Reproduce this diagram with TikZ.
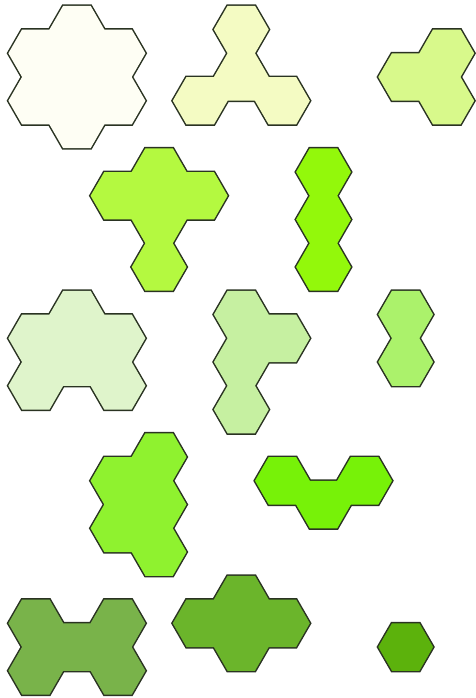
\documentclass[tikz,border=0pt]{standalone}
\usepackage{tikz}
\definecolor{outl}{HTML}{2A3322}
\definecolor{ca}{HTML}{FEFEF4}
\definecolor{cb}{HTML}{F4FBC3}
\definecolor{cc}{HTML}{D8F98B}
\definecolor{cd}{HTML}{B4F940}
\definecolor{ce}{HTML}{93F80B}
\definecolor{cf}{HTML}{DFF4CB}
\definecolor{cg}{HTML}{C6F0A1}
\definecolor{ch}{HTML}{ABF26B}
\definecolor{ci}{HTML}{8FF22F}
\definecolor{cj}{HTML}{77F208}
\definecolor{ck}{HTML}{79B34A}
\definecolor{cl}{HTML}{6BB52B}
\definecolor{cm}{HTML}{5CB20C}
\newcommand\hexcell[2]{({35.8+41.1*#1+27.42},{-(29.5+23.75*#2)}) -- ++(120:27.42pt) -- ++(180:27.42pt) -- ++(240:27.42pt) -- ++(300:27.42pt) -- ++(0:27.42pt) -- cycle}
\newcommand\polyhex[2]{%
  \path[hexline] foreach \k/\j in {#2} {\hexcell{\k}{\j}};
  \path[fill=#1] foreach \k/\j in {#2} {\hexcell{\k}{\j}};
}
\tikzset{hexline/.style={draw=outl, line width=3pt, line join=miter}}
\begin{document}
\begin{tikzpicture}[x=1pt,y=1pt]
\path[use as bounding box, fill=white] (0,0) rectangle (475,-698);
\polyhex{ca}{1/0,1/2,1/4,0/1,0/3,2/1,2/3}
\polyhex{cb}{5/0,5/2,4/3,6/3}
\polyhex{cc}{10/1,9/2,10/3}
\polyhex{cd}{3/6,2/7,4/7,3/8,3/10}
\polyhex{ce}{7/6,7/8,7/10}
\polyhex{cf}{1/12,0/13,2/13,1/14,0/15,2/15}
\polyhex{cg}{5/12,6/13,5/14,5/16}
\polyhex{ch}{9/12,9/14}
\polyhex{ci}{3/18,2/19,3/20,2/21,3/22}
\polyhex{cj}{6/19,7/20,8/19}
\polyhex{ck}{0/25,2/25,1/26,0/27,2/27}
\polyhex{cl}{5/24,4/25,6/25,5/26}
\polyhex{cm}{9/26}
\end{tikzpicture}
\end{document}
